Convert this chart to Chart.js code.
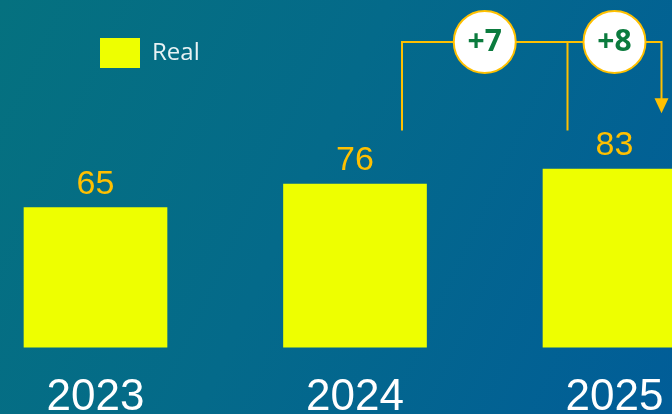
<!DOCTYPE html>
<html>
<head>
<meta charset="utf-8">
<script src="https://cdn.jsdelivr.net/npm/chart.js@4.4.1/dist/chart.umd.min.js"></script>
<style>
  html, body { margin: 0; padding: 0; overflow: hidden; }
  body {
    width: 672px; height: 414px;
    background: linear-gradient(115deg, #05717f 0%, #046a8a 45%, #015d98 100%);
  }
  canvas { display: block; }
</style>
</head>
<body>
<canvas id="chart" width="695" height="449"></canvas>
<script>
// Dados
const anos = ['2023', '2024', '2025'];
const valoresReal = [65, 76, 83];
const variacoes = ['+7', '+8'];

const amarelo = '#EEFF00';
const laranja = '#FFC000';
const verde = '#0B7B3E';
const fonte = "'Liberation Sans', Arial, sans-serif";

// Rótulos de valor acima das barras
const rotulosValor = {
    id: 'rotulosValor',
    afterDatasetsDraw(chart) {
        const ctx = chart.ctx;
        const meta = chart.getDatasetMeta(0);
        ctx.save();
        ctx.fillStyle = laranja;
        ctx.font = '34px ' + fonte;
        ctx.textAlign = 'center';
        ctx.textBaseline = 'alphabetic';
        meta.data.forEach((bar, i) => {
            ctx.fillText(String(valoresReal[i]), bar.x, bar.y - 14);
        });
        ctx.restore();
    }
};

// Colchetes com a variação entre anos
const colchetes = {
    id: 'colchetes',
    afterDraw(chart) {
        const ctx = chart.ctx;
        const x = chart.scales.x;
        const y = chart.scales.y;
        const desvio = 47;
        const yTopo = y.getPixelForValue(142.2);
        const yPerna = y.getPixelForValue(101);
        const ySeta = y.getPixelForValue(109);
        // pernas: depois de 2024, antes de 2025, depois de 2025 (com seta)
        const pernas = [
            x.getPixelForValue(1) + desvio,
            x.getPixelForValue(2) - desvio,
            x.getPixelForValue(2) + desvio
        ];

        ctx.save();
        ctx.strokeStyle = laranja;
        ctx.lineWidth = 2;
        ctx.beginPath();
        ctx.moveTo(pernas[0], yPerna);
        ctx.lineTo(pernas[0], yTopo);
        ctx.lineTo(pernas[2], yTopo);
        ctx.lineTo(pernas[2], ySeta - 14);
        ctx.moveTo(pernas[1], yTopo);
        ctx.lineTo(pernas[1], yPerna);
        ctx.stroke();

        // seta
        ctx.fillStyle = laranja;
        ctx.beginPath();
        ctx.moveTo(pernas[2], ySeta);
        ctx.lineTo(pernas[2] - 7, ySeta - 15);
        ctx.lineTo(pernas[2] + 7, ySeta - 15);
        ctx.closePath();
        ctx.fill();

        // círculos
        variacoes.forEach((txt, i) => {
            const cx = (pernas[i] + pernas[i + 1]) / 2;
            ctx.beginPath();
            ctx.arc(cx, yTopo, 31, 0, Math.PI * 2);
            ctx.fillStyle = '#ffffff';
            ctx.fill();
            ctx.lineWidth = 2;
            ctx.strokeStyle = laranja;
            ctx.stroke();
            ctx.fillStyle = verde;
            ctx.font = "bold 30px 'Open Sans', sans-serif";
            ctx.textAlign = 'center';
            ctx.textBaseline = 'middle';
            ctx.fillText(txt, cx, yTopo + 1);
        });
        ctx.restore();
    }
};

new Chart(document.getElementById('chart'), {
    type: 'bar',
    data: {
        labels: anos,
        datasets: [{
            label: 'Real',
            data: valoresReal,
            backgroundColor: amarelo,
            borderWidth: 0,
            barThickness: 143,
            clip: false
        }]
    },
    options: {
        responsive: false,
        animation: false,
        layout: { padding: { left: 95.5, right: 80.5, top: 33.5, bottom: 0 } },
        plugins: {
            legend: {
                align: 'start',
                labels: {
                    boxWidth: 40,
                    boxHeight: 30,
                    padding: 4.5,
                    color: '#E8F2F4',
                    font: { family: "'Open Sans', sans-serif", size: 24 }
                }
            },
            tooltip: { enabled: false }
        },
        scales: {
            x: {
                offset: false,
                grid: { display: false, drawTicks: false },
                border: { display: false },
                ticks: {
                    color: '#ffffff',
                    padding: 24.5,
                    font: { family: fonte, size: 44 }
                }
            },
            y: {
                display: false,
                min: 0,
                max: 125.4
            }
        }
    },
    plugins: [rotulosValor, colchetes]
});
</script>
</body>
</html>
